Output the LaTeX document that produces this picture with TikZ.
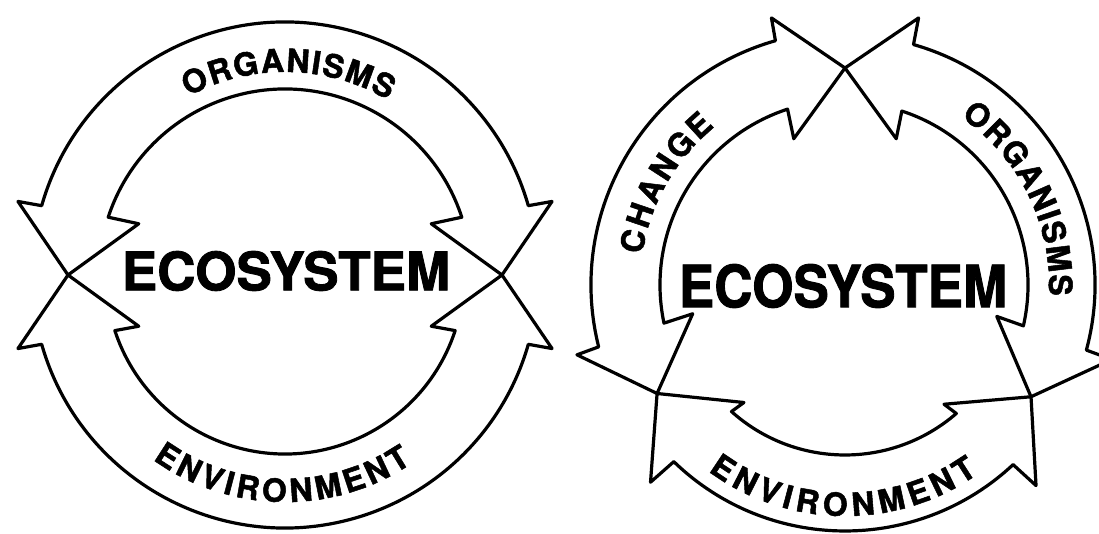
\documentclass[tikz,border=0pt]{standalone}
\usepackage{fontspec}
\usepackage{graphicx}
\usetikzlibrary{decorations.text}
\newfontfamily\heros{TeX Gyre Heros}[BoldFeatures={FakeBold=1.6}]
\newcommand\arclabelfont{\heros\bfseries\fontsize{32}{32}\selectfont}
\newcommand\ecofont{\heros\bfseries\fontsize{53}{53}\selectfont}

% ring arrow geometry (tip radius, barb radii, angular offsets of the head base)
\def\rmid{217}
\def\rbo{277}
\def\rbi{155}
\def\dbo{15.4}
\def\dao{15.9}
\def\dai{18.1}
\def\dbi{19.3}

% #1 centre, #2 first tip angle, #3 second tip angle, #4 sense (+1/-1), #5 inner r, #6 outer r
\newcommand\ringarrow[6]{%
  \begin{scope}[shift={(#1)}]
    \pgfmathsetmacro\aBo{#2+(#4)*\dbo}
    \pgfmathsetmacro\aAo{#2+(#4)*\dao}
    \pgfmathsetmacro\aAi{#2+(#4)*\dai}
    \pgfmathsetmacro\aBi{#2+(#4)*\dbi}
    \pgfmathsetmacro\eBo{#3-(#4)*\dbo}
    \pgfmathsetmacro\eAo{#3-(#4)*\dao}
    \pgfmathsetmacro\eAi{#3-(#4)*\dai}
    \pgfmathsetmacro\eBi{#3-(#4)*\dbi}
    \draw[ring] (#2:\rmid) -- (\aBo:\rbo) -- (\aAo:#6)
      arc[start angle=\aAo, end angle=\eAo, radius=#6]
      -- (\eBo:\rbo) -- (#3:\rmid) -- (\eBi:\rbi) -- (\eAi:#5)
      arc[start angle=\eAi, end angle=\aAi, radius=#5]
      -- (\aBi:\rbi) -- cycle;
  \end{scope}}

% #1 centre, #2 baseline radius, #3 start angle, #4 end angle, #5 word
\newcommand\arclabel[5]{%
  \path[shift={(#1)}, decorate, decoration={text along path,
      text={|\arclabelfont|#5}, text align={fit to path}}]
    (#3:#2) arc[start angle=#3, end angle=#4, radius=#2];}

\begin{document}
\begin{tikzpicture}[x=1pt, y=1pt,
    ring/.style={line width=3.2pt, line join=round},
    eco/.style={inner sep=0pt, font=\ecofont}]
  \useasboundingbox (0,0) rectangle (1099,534);

  \coordinate (Lc) at (285,259);
  \coordinate (Rc) at (845,249);

  % two-arrow cycle
  \ringarrow{Lc}{180}{0}{-1}{186}{253}
  \ringarrow{Lc}{180}{360}{1}{179}{253}
  \arclabel{Lc}{203}{118.5}{59.5}{ORGANISMS}
  \arclabel{Lc}{227}{234.4}{304}{ENVIRONMENT}
  \node[eco] (ecoL) at (286,263) {ECOSYSTEM};

  % three-arrow cycle
  \ringarrow{Rc}{210}{90}{-1}{185}{254}
  \ringarrow{Rc}{90}{-31}{-1}{183}{250}
  \ringarrow{Rc}{210}{329}{1}{170}{246}
  \arclabel{Rc}{205}{171.5}{129.5}{CHANGE}
  \arclabel{Rc}{204}{55.5}{-3}{ORGANISMS}
  \arclabel{Rc}{231}{233.7}{305.2}{ENVIRONMENT}
  \node[eco] (ecoR) at (843,248) {\scalebox{1}[1.1]{ECOSYSTEM}};
\end{tikzpicture}
\end{document}
